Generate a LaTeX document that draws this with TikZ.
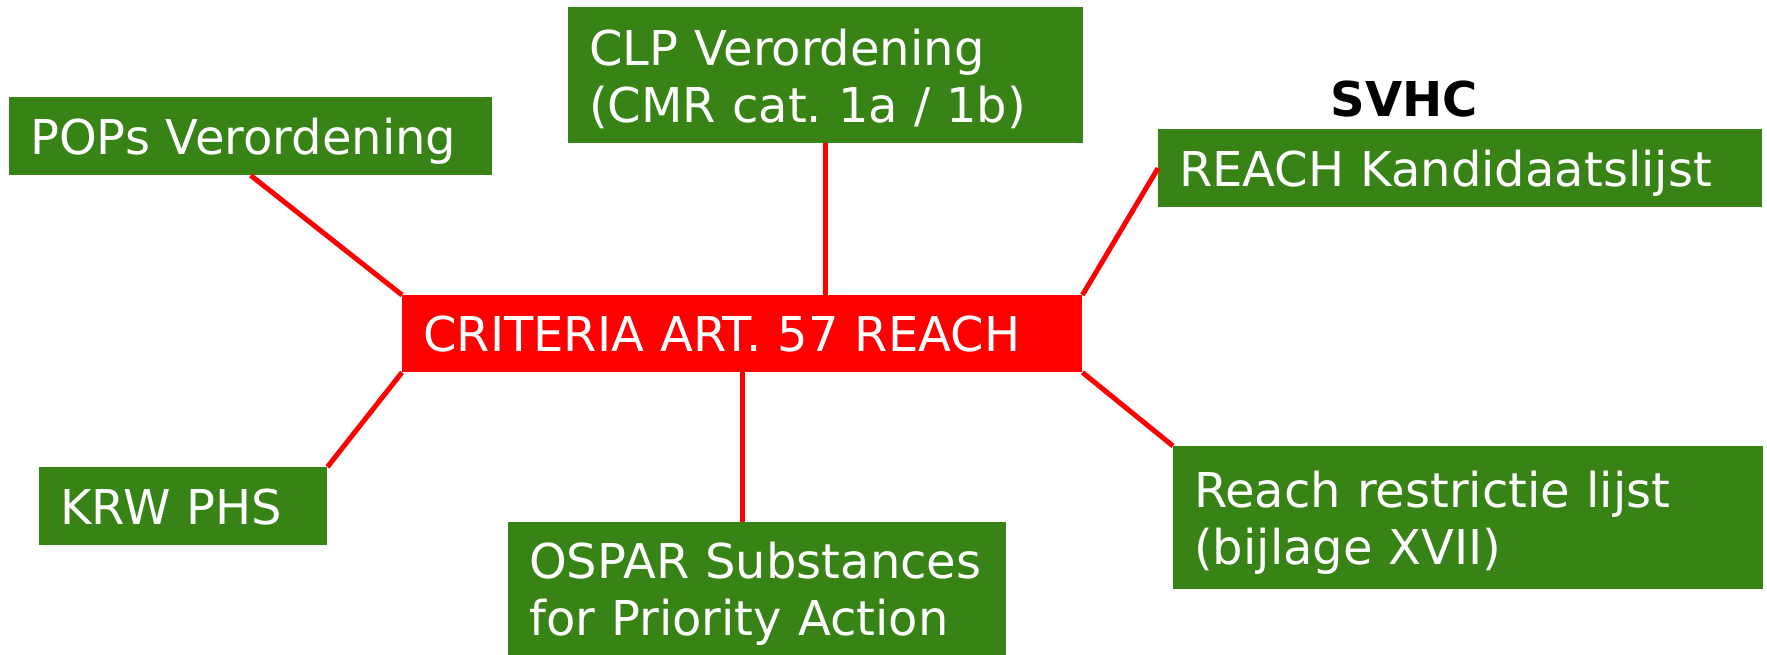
\documentclass[tikz,border=0pt]{standalone}
\usepackage{fontspec}
\setmainfont{DejaVu Sans}
\definecolor{boxgreen}{RGB}{56,131,21}
\begin{document}
\frenchspacing
\begin{tikzpicture}[x=1pt,y=-1pt,
  box/.style={fill=boxgreen,text=white,anchor=north west,inner xsep=21pt,inner ysep=0pt,align=left,text depth=0pt,font=\fontsize{48}{57}\selectfont},
  twoline/.style={text depth=56pt},
  link/.style={red,line width=5pt}]
\useasboundingbox (0,0) rectangle (1767,655);
\node[box,fill=red,minimum height=77pt,text width=638pt] (crit) at (402,295) {CRITERIA ART. 57 REACH};
\node[box,minimum height=78pt,text width=441pt] (pops) at (9,97) {POPs Verordening};
\node[box,twoline,minimum height=136pt,text width=473pt] (clp) at (568,7) {CLP Verordening\\(CMR cat. 1a / 1b)};
\node[box,minimum height=78pt,text width=562pt] (kand) at (1158,129) {REACH Kandidaatslijst};
\node[font=\fontsize{48}{57}\selectfont\bfseries] (svhc) at (1404,99.5) {SVHC};
\node[box,minimum height=78pt,text width=246pt] (krw) at (39,467) {KRW PHS};
\node[box,twoline,minimum height=133pt,text width=456pt] (ospar) at (508,522) {OSPAR Substances\\for Priority Action};
\node[box,twoline,minimum height=143pt,text width=548pt] (restr) at (1173,446) {Reach restrictie lijst\\(bijlage XVII)};
\draw[link] (pops.south) -- (crit.north west);
\draw[link] (clp.south) -- (clp.south |- crit.north);
\draw[link] (crit.north east) -- (kand.west);
\draw[link] (crit.south west) -- (krw.north east);
\draw[link] (crit.south) -- (crit.south |- ospar.north);
\draw[link] (crit.south east) -- (restr.north west);
\end{tikzpicture}
\end{document}
